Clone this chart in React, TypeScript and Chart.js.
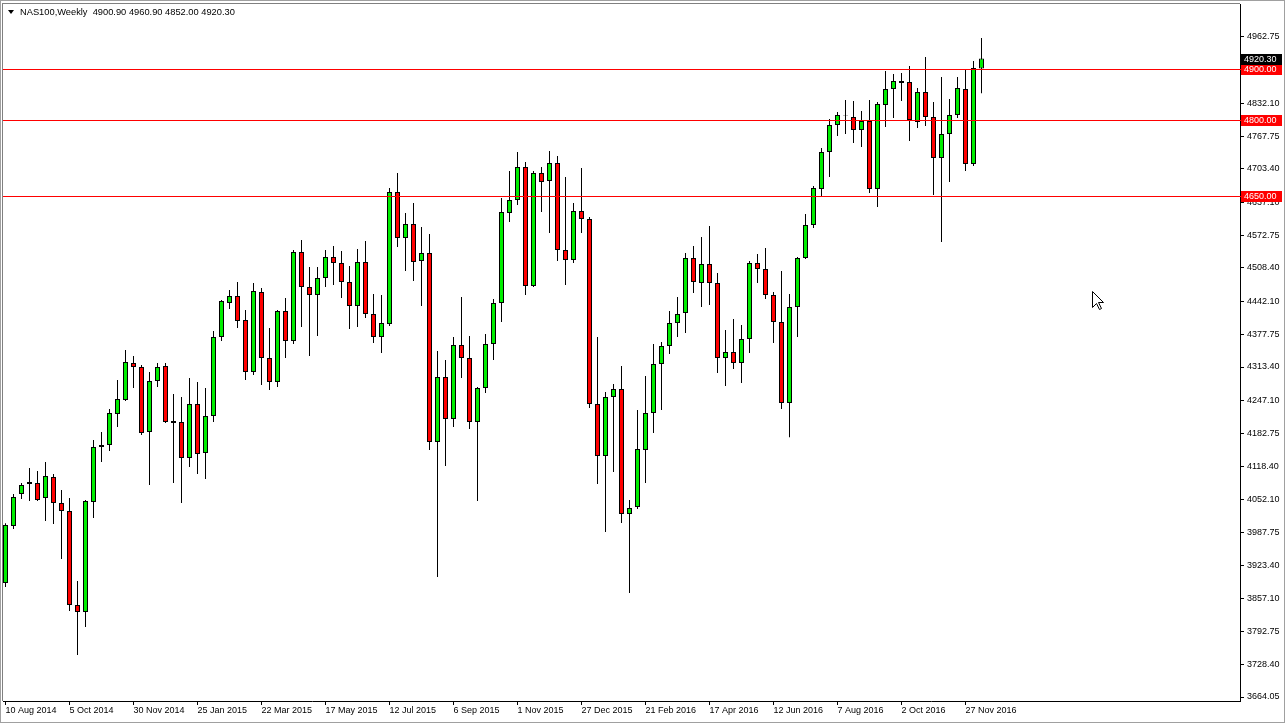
import React, { useEffect, useRef } from "react";
import { Chart, registerables } from "chart.js";

Chart.register(...registerables);

// ---- data (weekly NAS100 candles, 10 Aug 2014 .. 11 Dec 2016) ----
const symbolTitle = "NAS100,Weekly";
const lastQuote = [4900.9, 4960.9, 4852.0, 4920.3];

const opens = [
  3888.4, 4000.5, 4063.5, 4083.2, 4085.1, 4055.6, 4096.9, 4045.8, 4030.1, 3845.1,
  3831.3, 4047.8, 4156.0, 4159.9, 4220.9, 4248.5, 4321.3, 4313.4, 4185.5, 4285.9,
  4315.4, 4207.2, 4205.2, 4134.3, 4240.6, 4144.2, 4217.0, 4372.4, 4439.3, 4453.1,
  4405.9, 4303.6, 4461.0, 4331.1, 4283.9, 4423.6, 4364.5, 4539.7, 4470.8, 4455.1,
  4488.5, 4529.9, 4518.1, 4480.7, 4433.4, 4520.0, 4417.7, 4372.4, 4397.9, 4657.8,
  4567.2, 4594.8, 4522.0, 4537.7, 4165.8, 4293.7, 4211.1, 4356.7, 4331.1, 4205.2,
  4272.1, 4358.6, 4439.3, 4616.4, 4642.0, 4706.9, 4472.8, 4695.1, 4679.4, 4714.8,
  4543.6, 4524.0, 4620.4, 4604.6, 4240.6, 4138.3, 4254.4, 4270.1, 4024.2, 4037.9,
  4150.1, 4222.9, 4319.3, 4354.7, 4399.8, 4419.7, 4527.9, 4478.7, 4516.1, 4478.7,
  4331.1, 4342.9, 4321.3, 4368.5, 4518.1, 4506.2, 4455.1, 4401.9, 4242.6, 4431.5,
  4527.9, 4592.8, 4663.6, 4736.5, 4789.6, 4807.3, 4805.3, 4779.7, 4797.5, 4663.6,
  4828.9, 4860.4, 4876.2, 4874.2, 4795.5, 4854.5, 4805.3, 4724.7, 4771.9, 4809.3,
  4860.4, 4712.8, 4900.9,
];
const highs = [
  4006.0, 4063.5, 4085.1, 4114.6, 4108.8, 4126.5, 4102.9, 4071.4, 4055.6, 3892.3,
  4051.7, 4169.8, 4185.5, 4230.8, 4287.8, 4346.9, 4335.1, 4317.3, 4303.6, 4321.3,
  4321.3, 4260.3, 4254.4, 4291.7, 4283.9, 4272.1, 4384.2, 4445.2, 4464.9, 4480.7,
  4425.6, 4478.7, 4468.8, 4390.1, 4425.6, 4449.2, 4543.6, 4563.3, 4510.2, 4510.2,
  4543.6, 4551.5, 4541.7, 4512.1, 4545.6, 4561.3, 4457.1, 4455.1, 4665.6, 4695.1,
  4616.4, 4636.1, 4588.9, 4575.1, 4344.9, 4327.2, 4372.4, 4451.2, 4374.4, 4274.1,
  4378.3, 4447.2, 4645.9, 4699.1, 4736.5, 4716.8, 4699.1, 4706.9, 4738.4, 4728.6,
  4687.3, 4636.1, 4705.0, 4608.5, 4372.4, 4264.2, 4279.9, 4315.4, 4051.7, 4228.8,
  4295.7, 4358.6, 4362.6, 4423.6, 4451.2, 4537.7, 4551.5, 4569.2, 4590.9, 4498.4,
  4386.2, 4407.9, 4396.0, 4522.0, 4535.8, 4547.6, 4461.0, 4502.3, 4457.1, 4529.9,
  4614.5, 4669.6, 4744.3, 4801.4, 4815.2, 4838.8, 4836.8, 4817.1, 4838.8, 4834.8,
  4895.8, 4889.9, 4891.9, 4905.7, 4862.4, 4923.4, 4834.8, 4884.0, 4840.8, 4884.0,
  4897.8, 4915.5, 4960.9,
];
const lows = [
  3880.5, 3994.6, 4053.7, 4049.7, 4049.7, 4010.4, 4004.5, 3935.6, 3833.3, 3746.7,
  3801.8, 4016.3, 4126.5, 4148.1, 4195.3, 4246.5, 4272.1, 4179.6, 4081.2, 4274.1,
  4203.2, 4085.2, 4045.8, 4116.6, 4102.9, 4093.0, 4205.2, 4364.5, 4427.5, 4390.1,
  4287.8, 4297.7, 4278.0, 4268.2, 4274.1, 4331.1, 4358.6, 4392.1, 4335.1, 4374.4,
  4470.8, 4474.8, 4449.2, 4388.1, 4392.1, 4409.8, 4360.6, 4340.9, 4394.0, 4549.5,
  4502.3, 4482.6, 4433.4, 4150.1, 3900.2, 4118.6, 4195.3, 4291.7, 4191.4, 4049.7,
  4262.2, 4327.2, 4401.9, 4598.7, 4632.2, 4455.1, 4470.8, 4618.4, 4577.0, 4522.0,
  4474.8, 4518.1, 4577.0, 4232.7, 4083.2, 3988.7, 4106.8, 4006.4, 3868.7, 4034.0,
  4085.2, 4183.5, 4228.8, 4339.0, 4372.4, 4380.3, 4459.0, 4431.5, 4435.4, 4301.6,
  4276.0, 4309.4, 4281.9, 4340.9, 4478.7, 4447.2, 4360.6, 4230.8, 4175.4, 4372.4,
  4526.0, 4586.9, 4647.9, 4687.3, 4767.9, 4771.9, 4754.2, 4746.3, 4655.8, 4628.2,
  4785.7, 4803.4, 4836.8, 4758.1, 4783.7, 4787.6, 4651.9, 4559.4, 4677.4, 4803.4,
  4699.1, 4708.9, 4852.0,
];
const closes = [
  4002.5, 4057.6, 4081.2, 4087.1, 4051.7, 4098.9, 4045.8, 4030.1, 3845.1, 3831.3,
  4049.7, 4156.0, 4159.9, 4222.9, 4250.4, 4323.2, 4313.4, 4183.5, 4285.9, 4313.4,
  4205.2, 4203.2, 4134.3, 4240.6, 4142.2, 4217.0, 4372.4, 4443.2, 4453.1, 4403.9,
  4303.6, 4462.9, 4331.1, 4283.9, 4423.6, 4364.5, 4539.7, 4470.8, 4455.1, 4488.5,
  4529.9, 4518.1, 4480.7, 4433.4, 4520.0, 4417.7, 4372.4, 4399.8, 4657.8, 4567.2,
  4594.8, 4520.0, 4537.7, 4165.8, 4293.7, 4211.1, 4356.7, 4331.1, 4205.2, 4272.1,
  4358.6, 4439.3, 4618.4, 4642.0, 4706.9, 4472.8, 4695.1, 4677.4, 4714.8, 4543.6,
  4524.0, 4620.4, 4604.6, 4240.6, 4138.3, 4254.4, 4270.1, 4024.2, 4036.0, 4152.1,
  4222.9, 4319.3, 4354.7, 4399.8, 4417.7, 4527.9, 4480.7, 4516.1, 4478.7, 4331.1,
  4342.9, 4321.3, 4368.5, 4518.1, 4506.2, 4455.1, 4401.9, 4242.6, 4431.5, 4527.9,
  4592.8, 4665.6, 4736.5, 4789.6, 4809.3, 4808.3, 4779.7, 4797.5, 4663.6, 4830.9,
  4860.4, 4876.2, 4872.2, 4799.4, 4854.5, 4805.3, 4724.7, 4771.9, 4809.3, 4862.4,
  4712.8, 4901.7, 4920.3,
];

const xTickLabels = [
  "10 Aug 2014", "5 Oct 2014", "30 Nov 2014", "25 Jan 2015", "22 Mar 2015",
  "17 May 2015", "12 Jul 2015", "6 Sep 2015", "1 Nov 2015", "27 Dec 2015",
  "21 Feb 2016", "17 Apr 2016", "12 Jun 2016", "7 Aug 2016", "2 Oct 2016",
  "27 Nov 2016",
];
const weeksPerTick = 8;
const yTickValues = [
  4962.75, 4897.4, 4832.1, 4767.75, 4703.4, 4637.1, 4572.75, 4508.4, 4442.1,
  4377.75, 4313.4, 4247.1, 4182.75, 4118.4, 4052.1, 3987.75, 3923.4, 3857.1,
  3792.75, 3728.4, 3664.05,
];
const levelLines = [4900, 4800, 4650];
const currentPrice = 4920.3;

const GREEN = "#00ee00";
const RED = "#ff0000";
const FONT = '"Liberation Sans", Arial, sans-serif';

export default function App() {
  const ref = useRef<HTMLCanvasElement | null>(null);

  useEffect(() => {
    document.body.style.margin = "0";
    document.body.style.overflow = "hidden";
    const canvas = ref.current;
    if (!canvas) return;

    const idx = opens.map((_, i) => i);
    const bodyData = idx.map((i) => ({ x: i, y: [opens[i], closes[i]] }));
    const wickData = idx.map((i) => ({ x: i, y: [lows[i], highs[i]] }));
    const bodyColors = idx.map((i) => (closes[i] >= opens[i] ? GREEN : RED));

    const overlay = {
      id: "mt4overlay",
      beforeDraw(chart: any) {
        const ctx = chart.ctx;
        ctx.save();
        ctx.fillStyle = "#ffffff";
        ctx.fillRect(0, 0, chart.width, chart.height);
        ctx.restore();
      },
      afterDraw(chart: any) {
        const ctx = chart.ctx;
        const area = chart.chartArea;
        const ys = chart.scales.y;
        ctx.save();

        // horizontal level lines
        ctx.fillStyle = RED;
        levelLines.forEach((v) => {
          const y = Math.round(ys.getPixelForValue(v));
          ctx.fillRect(area.left, y, area.right - area.left + 3, 1);
        });

        // frame
        ctx.strokeStyle = "#a0a0a0";
        ctx.lineWidth = 1;
        ctx.strokeRect(0.5, 0.5, chart.width - 1, chart.height - 1);
        ctx.fillStyle = "#808080";
        ctx.fillRect(area.left - 1, area.top - 1, 1, area.bottom - area.top + 1);
        ctx.fillRect(area.left - 1, area.top - 1, area.right - area.left + 1, 1);

        // price boxes
        ctx.font = `9px ${FONT}`;
        ctx.textBaseline = "middle";
        ctx.textAlign = "left";
        const box = (v: number, bg: string) => {
          const y = Math.round(ys.getPixelForValue(v));
          ctx.fillStyle = bg;
          ctx.fillRect(area.right + 1, y - 5, 41, 11);
          ctx.fillStyle = "#ffffff";
          ctx.fillText(v.toFixed(2), area.right + 4, y + 0.5);
        };
        levelLines.forEach((v) => box(v, RED));
        box(currentPrice, "#000000");

        // title
        ctx.fillStyle = "#000000";
        ctx.beginPath();
        ctx.moveTo(8, 10);
        ctx.lineTo(14, 10);
        ctx.lineTo(11, 14);
        ctx.closePath();
        ctx.fill();
        ctx.font = `9.3px ${FONT}`;
        ctx.fillText(
          `${symbolTitle}  ${lastQuote.map((q) => q.toFixed(2)).join(" ")}`,
          20,
          12.5
        );

        // mouse cursor
        ctx.translate(1092, 291);
        ctx.beginPath();
        ctx.moveTo(0.5, 0.5);
        ctx.lineTo(0.5, 16.5);
        ctx.lineTo(4.5, 12.5);
        ctx.lineTo(7.5, 18.5);
        ctx.lineTo(9.5, 17.5);
        ctx.lineTo(6.5, 11.5);
        ctx.lineTo(11.5, 11.5);
        ctx.closePath();
        ctx.fillStyle = "#ffffff";
        ctx.fill();
        ctx.strokeStyle = "#000000";
        ctx.lineWidth = 1;
        ctx.stroke();
        ctx.restore();
      },
    };

    const xMin = -0.3125;
    const xMax = xMin + 1237 / 8;

    const chart = new Chart(canvas, {
      type: "bar",
      data: {
        datasets: [
          {
            data: bodyData as any,
            backgroundColor: bodyColors,
            borderColor: "#000000",
            borderWidth: 1,
            borderSkipped: false,
            barThickness: 5,
            grouped: false,
            inflateAmount: 0,
            order: 0,
          } as any,
          {
            data: wickData as any,
            backgroundColor: "#000000",
            borderWidth: 0,
            barThickness: 1,
            grouped: false,
            inflateAmount: 0,
            order: 1,
          } as any,
        ],
      },
      options: {
        responsive: false,
        devicePixelRatio: 1,
        animation: false,
        layout: { padding: { left: 3, top: 4, right: 0, bottom: 0 } },
        plugins: {
          legend: { display: false },
          tooltip: { enabled: false },
        },
        scales: {
          x: {
            type: "linear",
            min: xMin,
            max: xMax,
            offset: false,
            bounds: "data",
            grid: {
              display: true,
              drawOnChartArea: false,
              drawTicks: true,
              tickLength: 4,
              color: "#000000",
              offset: false,
            },
            border: { display: true, color: "#000000" },
            ticks: {
              autoSkip: false,
              maxRotation: 0,
              align: "start",
              padding: 0,
              color: "#000000",
              font: { family: FONT, size: 9 },
              callback: (v: any) => {
                const j = Math.round(Number(v) / weeksPerTick);
                return xTickLabels[j] ?? "";
              },
            },
            afterBuildTicks: (scale: any) => {
              scale.ticks = xTickLabels.map((_, j) => ({ value: j * weeksPerTick }));
            },
            afterFit: (scale: any) => {
              scale.height = 22;
              scale.paddingLeft = 0;
              scale.paddingRight = 0;
              scale.paddingTop = 0;
              scale.paddingBottom = 0;
            },
          } as any,
          y: {
            type: "linear",
            position: "right",
            min: 3656.19,
            max: 5027.68,
            grid: {
              display: true,
              drawOnChartArea: false,
              drawTicks: true,
              tickLength: 4,
              color: "#000000",
            },
            border: { display: true, color: "#000000" },
            ticks: {
              autoSkip: false,
              padding: 3,
              color: "#000000",
              font: { family: FONT, size: 9 },
              callback: (v: any) => Number(v).toFixed(2),
            },
            afterBuildTicks: (scale: any) => {
              scale.ticks = yTickValues.map((v) => ({ value: v }));
            },
            afterFit: (scale: any) => {
              scale.width = 45;
              scale.paddingTop = 0;
              scale.paddingBottom = 0;
              scale.paddingLeft = 0;
              scale.paddingRight = 0;
            },
          } as any,
        },
      },
      plugins: [overlay],
    });

    return () => chart.destroy();
  }, []);

  return (
    <canvas
      ref={ref}
      width={1285}
      height={723}
      style={{ display: "block", width: 1285, height: 723 }}
    />
  );
}
